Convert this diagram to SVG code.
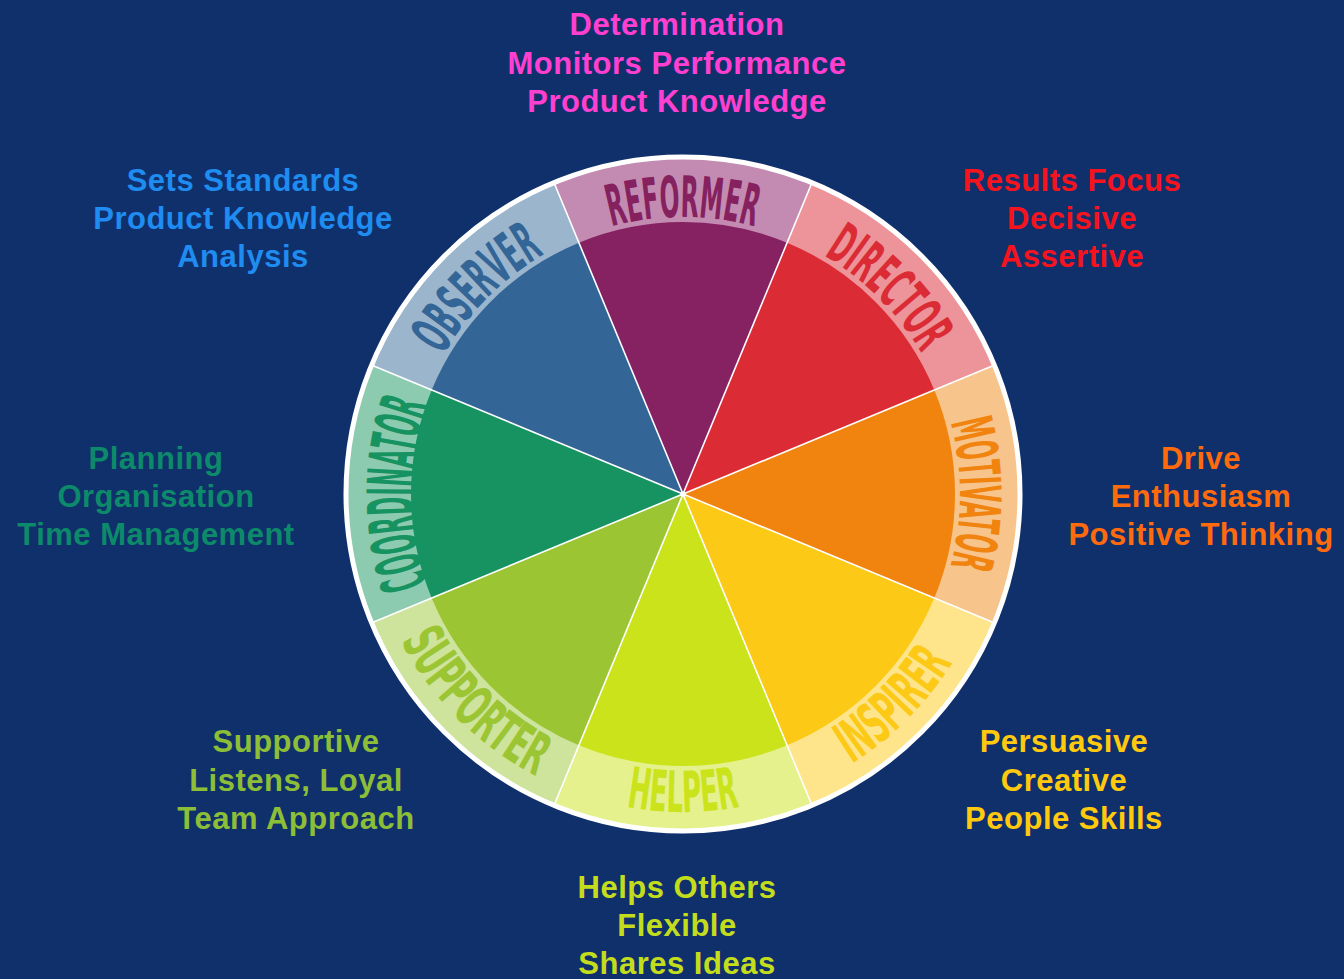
<svg xmlns="http://www.w3.org/2000/svg" width="1344" height="979" viewBox="0 0 1344 979">
  <style>
    .desc { font-family: "Liberation Sans", Arial, sans-serif; font-weight: bold; font-size: 31px; letter-spacing: 0.5px; text-anchor: middle; }
    .ring { font-family: "Liberation Sans Narrow", "DejaVu Sans Condensed", "Liberation Sans", sans-serif; font-weight: bold; font-size: 57px; }
    .divider { stroke: #ffffff; stroke-width: 1.6; fill: none; }
  </style>
  <defs>
    <!-- baseline arcs for the role names; upper names run clockwise, lower ones anticlockwise -->
    <path id="arc-reformer" d="M 443.1 355.5 A 277 277 0 0 1 922.9 355.5"/>
    <path id="arc-director" d="M 611.3 226.4 A 277 277 0 0 1 950.6 565.7"/>
    <path id="arc-motivator" d="M 821.5 254.1 A 277 277 0 0 1 821.5 733.9"/>
    <path id="arc-coordinator" d="M 548 727.8 A 270 270 0 0 1 548 260.2"/>
    <path id="arc-observer" d="M 415.4 565.7 A 277 277 0 0 1 754.7 226.4"/>
    <path id="arc-inspirer" d="M 600.7 801.2 A 318 318 0 0 0 990.2 411.7"/>
    <path id="arc-helper" d="M 407.6 653 A 318 318 0 0 0 958.4 653"/>
    <path id="arc-supporter" d="M 375.8 411.7 A 318 318 0 0 0 765.3 801.2"/>
  </defs>

  <rect width="1344" height="979" fill="#10306c"/>

  <g id="reformer">
    <path d="M 683 494 L 553.65 181.73 A 338 338 0 0 1 812.35 181.73 Z" fill="#c48bb2"/>
    <path d="M 683 494 L 578.91 242.70 A 272 272 0 0 1 787.09 242.70 Z" fill="#862162"/>
    <text class="ring" fill="#86215f"><textPath href="#arc-reformer" startOffset="50%" text-anchor="middle" textLength="145" lengthAdjust="spacingAndGlyphs">REFORMER</textPath></text>
    <text class="desc" fill="#ff3fcf"><tspan x="677" y="35">Determination</tspan><tspan x="677" y="74">Monitors Performance</tspan><tspan x="677" y="112">Product Knowledge</tspan></text>
  </g>

  <g id="director">
    <path d="M 683 494 L 812.35 181.73 A 338 338 0 0 1 995.27 364.65 Z" fill="#ec949a"/>
    <path d="M 683 494 L 787.09 242.70 A 272 272 0 0 1 934.30 389.91 Z" fill="#db2c36"/>
    <text class="ring" fill="#db2c36"><textPath href="#arc-director" startOffset="50%" text-anchor="middle" textLength="140" lengthAdjust="spacingAndGlyphs">DIRECTOR</textPath></text>
    <text class="desc" fill="#f5141e"><tspan x="1072" y="191">Results Focus</tspan><tspan x="1072" y="229">Decisive</tspan><tspan x="1072" y="267">Assertive</tspan></text>
  </g>

  <g id="motivator">
    <path d="M 683 494 L 995.27 364.65 A 338 338 0 0 1 995.27 623.35 Z" fill="#f7c48b"/>
    <path d="M 683 494 L 934.30 389.91 A 272 272 0 0 1 934.30 598.09 Z" fill="#f1840f"/>
    <text class="ring" fill="#f1840f"><textPath href="#arc-motivator" startOffset="50%" text-anchor="middle" textLength="145" lengthAdjust="spacingAndGlyphs">MOTIVATOR</textPath></text>
    <text class="desc" fill="#ff6a0d"><tspan x="1201" y="469">Drive</tspan><tspan x="1201" y="507">Enthusiasm</tspan><tspan x="1201" y="545">Positive Thinking</tspan></text>
  </g>

  <g id="inspirer">
    <path d="M 683 494 L 995.27 623.35 A 338 338 0 0 1 812.35 806.27 Z" fill="#fee58c"/>
    <path d="M 683 494 L 934.30 598.09 A 272 272 0 0 1 787.09 745.30 Z" fill="#fdc917"/>
    <text class="ring" fill="#fdc917"><textPath href="#arc-inspirer" startOffset="50%" text-anchor="middle" textLength="144" lengthAdjust="spacingAndGlyphs">INSPIRER</textPath></text>
    <text class="desc" fill="#ffc90e"><tspan x="1064" y="752">Persuasive</tspan><tspan x="1064" y="791">Creative</tspan><tspan x="1064" y="829">People Skills</tspan></text>
  </g>

  <g id="helper">
    <path d="M 683 494 L 812.35 806.27 A 338 338 0 0 1 553.65 806.27 Z" fill="#e4f18c"/>
    <path d="M 683 494 L 787.09 745.30 A 272 272 0 0 1 578.91 745.30 Z" fill="#cbe31b"/>
    <text class="ring" fill="#cbe31b"><textPath href="#arc-helper" startOffset="50%" text-anchor="middle" textLength="114" lengthAdjust="spacingAndGlyphs">HELPER</textPath></text>
    <text class="desc" fill="#c3dd1c"><tspan x="677" y="898">Helps Others</tspan><tspan x="677" y="936">Flexible</tspan><tspan x="677" y="974">Shares Ideas</tspan></text>
  </g>

  <g id="supporter">
    <path d="M 683 494 L 553.65 806.27 A 338 338 0 0 1 370.73 623.35 Z" fill="#cee39b"/>
    <path d="M 683 494 L 578.91 745.30 A 272 272 0 0 1 431.70 598.09 Z" fill="#9bc532"/>
    <text class="ring" fill="#9bc532"><textPath href="#arc-supporter" startOffset="50%" text-anchor="middle" textLength="194" lengthAdjust="spacingAndGlyphs">SUPPORTER</textPath></text>
    <text class="desc" fill="#8cbe37"><tspan x="296" y="752">Supportive</tspan><tspan x="296" y="791">Listens, Loyal</tspan><tspan x="296" y="829">Team Approach</tspan></text>
  </g>

  <g id="coordinator">
    <path d="M 683 494 L 370.73 623.35 A 338 338 0 0 1 370.73 364.65 Z" fill="#8dcbb0"/>
    <path d="M 683 494 L 431.70 598.09 A 272 272 0 0 1 431.70 389.91 Z" fill="#179362"/>
    <text class="ring" fill="#179362" style="font-size:64px"><textPath href="#arc-coordinator" startOffset="50%" text-anchor="middle" textLength="182" lengthAdjust="spacingAndGlyphs">COORDINATOR</textPath></text>
    <text class="desc" fill="#0d8a6a"><tspan x="156" y="469">Planning</tspan><tspan x="156" y="507">Organisation</tspan><tspan x="156" y="545">Time Management</tspan></text>
  </g>

  <g id="observer">
    <path d="M 683 494 L 370.73 364.65 A 338 338 0 0 1 553.65 181.73 Z" fill="#9bb5cd"/>
    <path d="M 683 494 L 431.70 389.91 A 272 272 0 0 1 578.91 242.70 Z" fill="#336597"/>
    <text class="ring" fill="#336597"><textPath href="#arc-observer" startOffset="50%" text-anchor="middle" textLength="145" lengthAdjust="spacingAndGlyphs">OBSERVER</textPath></text>
    <text class="desc" fill="#1e8cf0"><tspan x="243" y="191">Sets Standards</tspan><tspan x="243" y="229">Product Knowledge</tspan><tspan x="243" y="267">Analysis</tspan></text>
  </g>

  <!-- white spokes between the eight segments and the rim -->
  <g id="dividers">
    <line class="divider" x1="683" y1="494" x2="553.65" y2="181.73"/>
    <line class="divider" x1="683" y1="494" x2="812.35" y2="181.73"/>
    <line class="divider" x1="683" y1="494" x2="995.27" y2="364.65"/>
    <line class="divider" x1="683" y1="494" x2="995.27" y2="623.35"/>
    <line class="divider" x1="683" y1="494" x2="812.35" y2="806.27"/>
    <line class="divider" x1="683" y1="494" x2="553.65" y2="806.27"/>
    <line class="divider" x1="683" y1="494" x2="370.73" y2="623.35"/>
    <line class="divider" x1="683" y1="494" x2="370.73" y2="364.65"/>
    <circle cx="683" cy="494" r="337" fill="none" stroke="#ffffff" stroke-width="5"/>
    <circle cx="683" cy="494" r="2.5" fill="#ffffff"/>
  </g>
</svg>
